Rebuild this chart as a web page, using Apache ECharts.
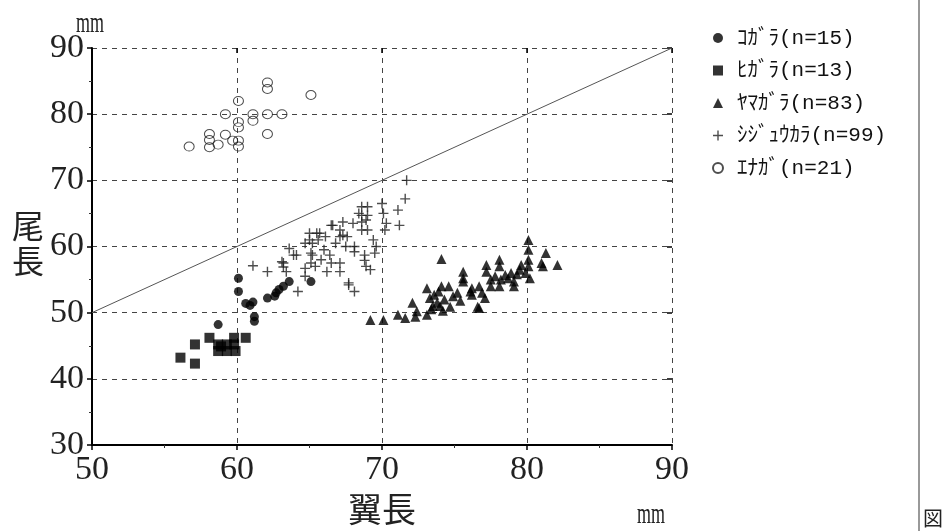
<!DOCTYPE html>
<html>
<head>
<meta charset="utf-8">
<script src="https://cdn.jsdelivr.net/npm/echarts/dist/echarts.min.js"></script>
<style>
  html, body { margin: 0; padding: 0; background: #fff; }
  #main { width: 944px; height: 531px; }
</style>
</head>
<body>
<div id="main"></div>
<script>
// [翼長, 尾長] mm
var kogara = [[60.1,55.2],[60.1,53.2],[58.7,48.2],[60.6,51.4],[61.1,51.6],[61.2,49.4],[61.2,48.7],
  [62.1,52.2],[62.6,52.5],[62.7,53.0],[63.2,54.0],[63.6,54.7],[65.1,54.7],[60.9,51.1],[62.9,53.5]];
var higara = [[56.1,43.2],[57.1,45.2],[57.1,42.3],[58.1,46.2],[58.7,45.2],[58.7,44.2],[59.3,44.2],
  [59.3,45.2],[59.8,45.2],[59.8,46.2],[60.6,46.2],[58.9,44.9],[59.9,44.2]];
var yamagara = [[69.2,48.9],[70.1,48.9],[71.1,49.7],[71.6,49.2],[72.1,51.5],[72.4,50.2],[73.1,53.7],
  [73.1,49.7],[73.3,52.2],[73.6,52.7],[73.8,51.5],[74.1,58.1],[74.1,54.0],[74.3,52.0],[74.6,54.0],
  [74.7,50.9],[75.2,53.0],[75.6,56.2],[75.6,54.7],[76.2,53.7],[76.2,52.7],[76.6,50.9],[75.6,55.2],
  [76.1,53.2],[76.7,50.7],[76.7,54.0],[77.1,52.2],[77.2,57.2],[77.2,56.2],[77.5,55.0],[77.5,54.0],
  [78.1,58.0],[78.1,57.0],[78.1,54.0],[78.2,55.0],[78.5,55.7],[78.7,55.2],[79.1,54.7],[79.1,54.0],
  [79.5,56.5],[79.6,57.2],[80.1,61.0],[80.1,59.5],[80.1,58.0],[80.1,57.0],[80.2,55.2],[81.0,57.5],
  [81.3,59.0],[82.1,57.2],[81.1,57.0],[73.5,51.0],[73.9,53.2],[74.0,51.0],[74.9,52.5],[75.4,51.8],
  [73.4,50.5],[74.2,50.3],[76.9,53.0],[77.8,55.5],[79.3,55.8],[79.9,56.0],[78.9,56.0],[72.3,49.4]];
var shijukara = [[61.1,57.1],[62.1,56.2],[63.6,59.7],[63.9,58.7],[63.1,57.7],[63.2,56.9],[63.4,56.2],
  [64.2,53.2],[64.7,55.5],[65.0,62.0],[65.0,61.0],[65.1,59.0],[65.1,57.5],[65.5,62.0],[65.6,61.0],
  [66.1,61.5],[66.2,56.2],[66.5,63.2],[66.4,58.7],[67.1,62.5],[67.1,61.5],[67.1,57.5],[67.1,56.2],
  [67.3,63.7],[67.6,61.5],[67.7,54.5],[68.1,53.2],[68.0,63.5],[68.1,60.0],[68.1,59.2],[68.6,66.0],
  [68.6,64.7],[68.6,63.7],[68.6,62.5],[68.8,58.7],[68.8,57.9],[68.9,57.0],[69.0,66.0],[69.0,64.7],
  [69.0,62.5],[69.2,56.5],[69.6,60.0],[70.0,66.5],[70.1,65.0],[70.2,62.5],[70.3,63.5],[71.1,65.5],
  [71.2,63.2],[71.6,67.2],[71.7,70.0],[64.7,60.5],[65.2,60.5],[64.1,58.7],[64.7,56.7],[65.2,58.7],
  [66.6,63.2],[67.7,54.2],[63.2,57.5],[65.7,62.0],[65.8,58.0],[67.3,61.7],[68.4,65.0],[68.9,64.0],
  [69.4,61.0],[69.5,59.0],[66.0,59.5],[66.8,60.5],[67.5,60.0],[65.4,57.0],[66.5,57.5]];
var enaga = [[56.7,75.1],[58.1,77.0],[58.1,76.1],[58.1,75.0],[58.7,75.4],[59.2,76.9],[59.7,76.0],
  [60.1,76.0],[60.1,75.1],[60.1,82.0],[60.1,78.8],[59.2,80.0],[61.1,80.0],[61.1,79.0],[62.1,80.0],
  [63.1,80.0],[62.1,77.0],[62.1,84.8],[62.1,83.8],[65.1,82.9],[60.1,78.0]];
var diagonal = [[50,50],[90,90]];
var names = ['ｺｶﾞﾗ(n=15)', 'ﾋｶﾞﾗ(n=13)', 'ﾔﾏｶﾞﾗ(n=83)', 'ｼｼﾞｭｳｶﾗ(n=99)', 'ｴﾅｶﾞ(n=21)'];

var numFont = "'Liberation Serif', serif";
var jpFont = "'Noto Sans CJK JP', sans-serif";
var plus = 'path://M4.3,0H5.7V4.3H10V5.7H5.7V10H4.3V5.7H0V4.3H4.3Z';

function mainAxis(min, max) {
  return {
    type: 'value', min: min, max: max, interval: 10,
    axisLine: { show: true, lineStyle: { color: '#000', width: 2 } },
    axisTick: { show: true, length: 5, lineStyle: { color: '#000', width: 1.5 } },
    minorTick: { show: true, splitNumber: 2, length: 3, lineStyle: { color: '#333' } },
    axisLabel: { fontSize: 34, fontFamily: numFont, color: '#222', margin: 8 },
    splitLine: { show: true, lineStyle: { color: '#444', width: 1, type: [5, 5] } }
  };
}
function innerTicks(min, max) {
  return {
    type: 'value', min: min, max: max, interval: 10,
    axisLine: { show: false },
    axisTick: { show: true, inside: true, length: 5, lineStyle: { color: '#000', width: 1.5 } },
    axisLabel: { show: false },
    splitLine: { show: false }
  };
}

var chart = echarts.init(document.getElementById('main'));
chart.setOption({
  animation: false,
  backgroundColor: '#fff',
  grid: { left: 92, right: 272, top: 48, bottom: 86 },
  xAxis: [mainAxis(50, 90), innerTicks(50, 90)],
  yAxis: [mainAxis(30, 90), innerTicks(30, 90)],
  legend: {
    data: names,
    orient: 'vertical',
    left: 707, top: 22,
    itemWidth: 10, itemHeight: 10, itemGap: 10.5,
    textStyle: { fontSize: 21, fontFamily: "'Liberation Mono', " + jpFont, color: '#111',
      lineHeight: 22, padding: [0, 0, 0, 9] }
  },
  series: [
    { type: 'line', data: diagonal, showSymbol: false, silent: true,
      lineStyle: { color: '#555', width: 1 }, z: 1 },
    { name: names[0], type: 'scatter', data: kogara, symbol: 'circle', symbolSize: 9,
      itemStyle: { color: '#000' } },
    { name: names[1], type: 'scatter', data: higara, symbol: 'rect', symbolSize: 10,
      itemStyle: { color: '#000' } },
    { name: names[2], type: 'scatter', data: yamagara, symbol: 'triangle', symbolSize: 10,
      itemStyle: { color: '#000' } },
    { name: names[3], type: 'scatter', data: shijukara, symbol: plus, symbolSize: 10,
      itemStyle: { color: '#222' } },
    { name: names[4], type: 'scatter', data: enaga, symbol: 'circle', symbolSize: [10, 9],
      itemStyle: { color: 'rgba(255,255,255,0)', borderColor: '#222', borderWidth: 1 } }
  ],
  graphic: [
    { type: 'text', left: 76, top: 9, scaleX: 0.6,
      style: { text: 'mm', fontSize: 30, fontFamily: "'Liberation Serif', serif", fill: '#222' } },
    { type: 'text', left: 12, top: 208,
      style: { text: '尾\n長', fontSize: 32, lineHeight: 35, fontFamily: jpFont, fill: '#222' } },
    { type: 'text', left: 348, top: 492,
      style: { text: '翼長', fontSize: 34, fontFamily: jpFont, fill: '#222' } },
    { type: 'text', left: 637, top: 500, scaleX: 0.6,
      style: { text: 'mm', fontSize: 30, fontFamily: "'Liberation Serif', serif", fill: '#222' } },
    { type: 'line', shape: { x1: 919, y1: 0, x2: 919, y2: 531 },
      style: { stroke: '#999', lineWidth: 2 } },
    { type: 'text', left: 923, top: 508,
      style: { text: '図', fontSize: 20, fontFamily: jpFont, fill: '#222' } }
  ]
});
</script>
</body>
</html>
